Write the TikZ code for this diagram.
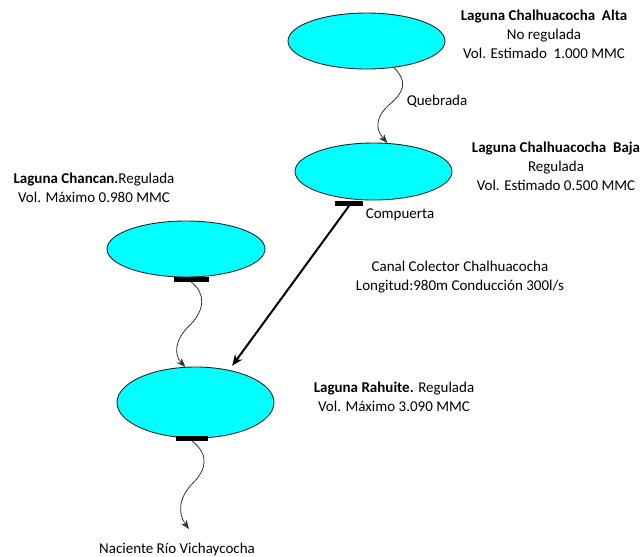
\documentclass[tikz,border=0pt]{standalone}
\usepackage{fontspec}
\setmainfont{Carlito}
\usetikzlibrary{shapes.geometric,arrows.meta}
\tikzset{
  lake/.style={ellipse, draw=black!85, line width=0.9pt, fill={rgb,255:red,0;green,255;blue,255}, inner sep=0pt},
  gate/.style={rectangle, fill=black, inner sep=0pt, minimum width=#1, minimum height=4.5pt},
  info/.style={align=center, font=\fontsize{15}{19}\selectfont, inner sep=0pt},
  stream/.style={draw=black!80, line width=0.8pt, -{Stealth[length=9pt,width=7pt]}},
  canal/.style={draw=black, line width=2pt, -{Stealth[length=11pt,width=9pt]}}
}
\begin{document}
\begin{tikzpicture}[x=1pt, y=-1pt]
  \useasboundingbox (0,0) rectangle (643,557);

  % lakes
  \node[lake, minimum width=157pt, minimum height=56pt] (alta) at (366.5,41) {};
  \node[lake, minimum width=157pt, minimum height=57pt] (baja) at (373.5,171.5) {};
  \node[lake, minimum width=158pt, minimum height=56pt] (chancan) at (186,249) {};
  \node[lake, minimum width=157pt, minimum height=71pt] (rahuite) at (195.5,402.5) {};

  % gates
  \node[gate=28pt] (bgate) at (349,203.5) {};
  \node[gate=35pt] (cgate) at (191,279.5) {};
  \node[gate=32pt] (rgate) at (192,438.5) {};

  % labels
  \node[info] (talta) at (544,34) {\textbf{Laguna Chalhuacocha\ \ Alta}\\No regulada\\Vol. Estimado\ \ 1.000 MMC};
  \node[info] (tbaja) at (556,166) {\textbf{Laguna Chalhuacocha\ \ Baja}\\Regulada\\Vol. Estimado 0.500 MMC};
  \node[info] (tchancan) at (94,188) {\textbf{Laguna Chancan.}Regulada\\Vol. Máximo 0.980 MMC};
  \node[info] (trahuite) at (394,397) {\textbf{Laguna Rahuite.} Regulada\\Vol. Máximo 3.090 MMC};
  \node[info] (tcanal) at (460,277) {Canal Colector Chalhuacocha\\Longitud:980m Conducción 300l/s};
  \node[info] (tquebrada) at (437,101) {Quebrada};
  \node[info] (tcompuerta) at (400,215) {Compuerta};
  \node[info] (tnaciente) at (177,549) {Naciente Río Vichaycocha};
  \coordinate (naciente) at (189,529);

  % streams and canal
  \draw[stream] (alta.-44) .. controls (408,82) and (404,92) .. (390,104)
                           .. controls (374,118) and (376,130) .. (baja.64);
  \draw[stream] (cgate.south) .. controls (206,293) and (205,310) .. (190,325)
                             .. controls (174,340) and (174,355) .. (rahuite.106);
  \draw[canal] (bgate.south) -- ([shift={(4,-4)}]rahuite.45);
  \draw[stream] (rgate.south) .. controls (210,455) and (206,470) .. (193,483)
                             .. controls (178,498) and (178,514) .. (naciente);
\end{tikzpicture}
\end{document}
